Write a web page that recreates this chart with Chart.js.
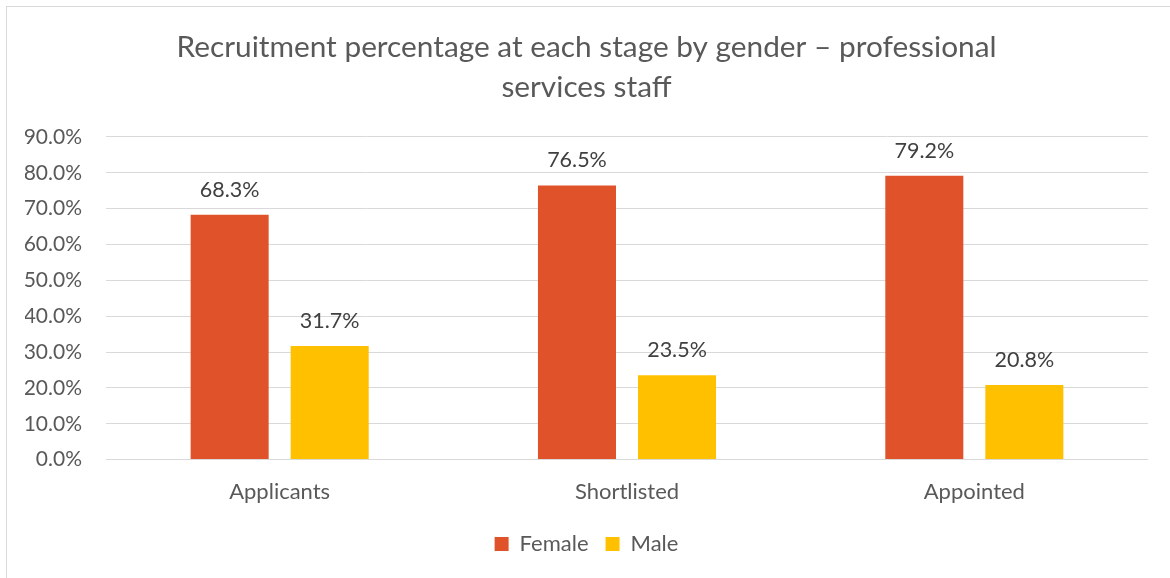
<!DOCTYPE html>
<html>
<head>
<meta charset="utf-8">
<script src="https://cdn.jsdelivr.net/npm/chart.js@4"></script>
<style>
  html, body { margin: 0; padding: 0; background: #fff; overflow: hidden; }
  #frame { position: absolute; left: 6px; top: 6px; width: 1200px; height: 600px; border: 1px solid #d9d9d9; }
  #wrap { position: absolute; left: 0; top: 0; width: 1182px; height: 578px; }
</style>
</head>
<body>
<div id="frame"></div>
<div id="wrap"><canvas id="chart"></canvas></div>
<script>
// ===== data =====
const stages = ['Applicants', 'Shortlisted', 'Appointed'];
const femaleShare = [68.3, 76.5, 79.2];
const maleShare = [31.7, 23.5, 20.8];
const yTicks = [0, 10, 20, 30, 40, 50, 60, 70, 80, 90];
const titleLines = ['Recruitment percentage at each stage by gender \u2013 professional', 'services staff'];

const TEXT = '#595959';
const FONT = 'Lato, "Noto Sans", sans-serif';

// value labels above each bar
const barLabels = {
    id: 'barLabels',
    afterDatasetsDraw(chart) {
        const ctx = chart.ctx;
        ctx.save();
        ctx.font = '21.5px ' + FONT;
        ctx.fillStyle = '#404040';
        ctx.textAlign = 'center';
        ctx.textBaseline = 'middle';
        chart.data.datasets.forEach((ds, i) => {
            chart.getDatasetMeta(i).data.forEach((bar, j) => {
                ctx.fillText(ds.data[j].toFixed(1) + '%', bar.x, bar.y - 25);
            });
        });
        ctx.restore();
    }
};

new Chart(document.getElementById('chart'), {
    type: 'bar',
    data: {
        labels: stages,
        datasets: [
            { label: 'Female', data: femaleShare, backgroundColor: '#E0532A', barPercentage: 0.78, categoryPercentage: 0.576 },
            { label: 'Male', data: maleShare, backgroundColor: '#FFC000', barPercentage: 0.78, categoryPercentage: 0.576 }
        ]
    },
    options: {
        responsive: true,
        maintainAspectRatio: false,
        animation: false,
        layout: { padding: { left: 25, right: 34, top: 0, bottom: 13 } },
        plugins: {
            title: {
                display: true,
                text: titleLines,
                color: TEXT,
                font: { family: FONT, size: 29.8, weight: 'normal', lineHeight: 1.342 },
                padding: { top: 27, bottom: 30 }
            },
            legend: {
                position: 'bottom',
                labels: {
                    color: TEXT,
                    font: { family: FONT, size: 22 },
                    boxWidth: 14,
                    boxHeight: 14,
                    padding: 17
                }
            },
            tooltip: { enabled: false }
        },
        scales: {
            x: {
                grid: { display: false },
                border: { display: false },
                ticks: { color: TEXT, font: { family: FONT, size: 22 }, padding: 11 }
            },
            y: {
                min: 0,
                max: 90,
                afterBuildTicks: axis => { axis.ticks = yTicks.map(v => ({ value: v })); },
                afterFit: axis => { axis.width = 81; },
                grid: { color: '#d9d9d9', lineWidth: 1, drawTicks: false },
                border: { display: false },
                ticks: { color: TEXT, font: { family: FONT, size: 21 }, padding: 24, callback: v => v.toFixed(1) + '%' }
            }
        }
    },
    plugins: [barLabels]
});
</script>
</body>
</html>
